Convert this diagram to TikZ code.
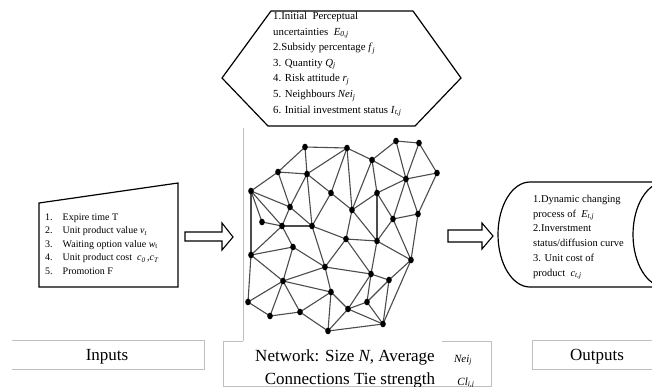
\documentclass[tikz,border=0pt]{standalone}
\usepackage{fontspec}
\setmainfont{Liberation Serif}
\newcommand{\vsub}[2]{\textit{#1}\textsubscript{\textit{#2}}}
\begin{document}
\begin{tikzpicture}[x=1pt,y=-1pt,
    link/.style={black!70,line width=1.1pt},
    frame/.style={draw=black!25,line width=0.8pt},
    outline/.style={draw=black,line width=1.2pt},
    blockarrow/.style={draw=black,line width=1.1pt,fill=white},
    caption/.style={font=\fontsize{17}{20}\selectfont,inner sep=0pt}]
  \useasboundingbox (0,0) rectangle (652,389);
  \clip (0,0) rectangle (652,389);

  % hexagon with the agent attributes
  \draw[outline] (222,78) -- (271,11) -- (413,11) -- (461,78) -- (415,126) -- (268,126) -- cycle;
  \node[anchor=base west,inner sep=0pt] (attrib) at (273,19.5) {\fontsize{10.8}{15.6}\selectfont
    \begin{tabular}[t]{@{}l@{}}
      1.Initial\ \ Perceptual\\
      uncertainties\ \ \vsub{E}{0,j}\\
      2.Subsidy percentage \vsub{f}{j}\\
      3. Quantity \vsub{Q}{j}\\
      4. Risk attitude \vsub{r}{j}\\
      5. Neighbours \vsub{Nei}{j}\\
      6. Initial investment status \vsub{I}{t,j}
    \end{tabular}};

  % inputs
  \draw[outline] (39,203) -- (178,183) -- (178,287) -- (39,287) -- cycle;
  \node[anchor=base west,inner sep=0pt] (inputs) at (45,220) {\fontsize{10}{13.5}\selectfont
    \begin{tabular}[t]{@{}l@{\hspace{10pt}}l@{}}
      1. & Expire time T\\
      2. & Unit product value \vsub{v}{t}\\
      3. & Waiting option value \textit{w}\textsubscript{t}\\
      4. & Unit product cost\ \ \vsub{c}{0}\,,\vsub{c}{T}\\
      5. & Promotion F
    \end{tabular}};

  % network
  \draw[frame] (243,128) -- (243,341);
  \foreach \i/\x/\y in {1/305/147, 2/347/148, 3/396/141, 4/419/143, 5/372/160, 6/278/172,
      7/307/174, 8/406/179, 9/437/173, 10/251/191, 11/331/193, 12/377/193,
      13/290/207, 14/352/210, 15/418/214, 16/393/219, 17/262/222, 18/282/226,
      19/312/226, 20/346/239, 21/377/241, 22/293/247, 23/251/255, 24/411/260,
      25/325/267, 26/371/274, 27/389/280, 28/283/281, 29/331/292, 30/248/302,
      31/367/302, 32/348/309, 33/300/312, 34/270/316, 35/383/324, 36/328/331}
    \coordinate (n\i) at (\x,\y);
  \foreach \a/\b in {1/2, 1/6, 1/7, 2/7, 2/5, 2/14, 2/11, 5/3, 3/4, 3/8, 4/8, 4/9,
      8/9, 5/8, 5/12, 5/14, 12/8, 12/14, 12/16, 8/16, 8/15, 9/15, 16/15,
      6/7, 6/10, 6/13, 7/13, 7/19, 7/11, 10/13, 10/17, 10/18, 10/23, 13/18,
      13/19, 17/18, 18/19, 18/22, 18/23, 19/25, 22/23, 22/25, 22/28, 19/11,
      19/20, 11/14, 14/20, 14/21, 12/21, 20/21, 21/16, 15/24, 21/24, 16/24,
      20/26, 21/26, 24/27, 24/35, 26/27, 26/31, 26/32, 27/31, 26/25, 31/32,
      31/35, 32/35, 32/29, 20/25, 25/28, 25/29, 28/23, 28/30, 28/34, 28/33,
      28/29, 29/33, 29/36, 33/36, 36/35, 32/36, 30/34, 34/33, 30/23, 27/35}
    \draw[link] (n\a) -- (n\b);
  \foreach \i in {1,...,36}
    \fill (n\i) ellipse [x radius=2.8, y radius=3.3];

  % arrows
  \draw[blockarrow] (185,232) -- (222,232) -- (222,223) -- (233,237) -- (222,250)
    -- (222,241) -- (185,241) -- cycle;
  \draw[blockarrow] (448,230) -- (482,230) -- (482,223) -- (493,236) -- (482,249)
    -- (482,242) -- (448,242) -- cycle;

  % outputs
  \draw[outline] (680,182) -- (530,182) arc[start angle=270, end angle=90,
    x radius=32, y radius=52.5] -- (680,287);
  \draw[outline] (665,234.5) ellipse [x radius=32, y radius=52.5];
  \node[anchor=base west,inner sep=0pt] (results) at (533,202.5) {\fontsize{10.5}{14.7}\selectfont
    \begin{tabular}[t]{@{}l@{}}
      1.Dynamic changing\\
      process of\ \ \vsub{E}{t,j}\\
      2.Inverstment\\
      status/diffusion curve\\
      3. Unit cost of\\
      product\ \ \vsub{c}{t,j}
    \end{tabular}};

  % captions
  \draw[frame] (12,340) -- (204,340) -- (204,369) -- (12,369);
  \node[caption] (incap) at (107,357) {Inputs};
  \draw[frame] (243,341) -- (223,341) -- (223,386) -- (491,386) -- (491,341) -- (442,341);
  \begin{scope}
    \clip (223,341) rectangle (491,386);
    \node[caption] (netcap) at (345,357) {Network: Size \textit{N}, Average};
    \node[font=\fontsize{11}{13}\selectfont,inner sep=0pt] (neicap) at (463,360) {\vsub{Nei}{j}};
    \node[caption] (tiecap) at (350,380) {Connections Tie\ strength};
    \node[font=\fontsize{11}{13}\selectfont,inner sep=0pt] (clcap) at (466,383) {\vsub{Cl}{i,j}};
  \end{scope}
  \draw[frame] (652,340) -- (532,340) -- (532,369) -- (652,369);
  \node[caption] (outcap) at (597,357) {Outputs};
\end{tikzpicture}
\end{document}
